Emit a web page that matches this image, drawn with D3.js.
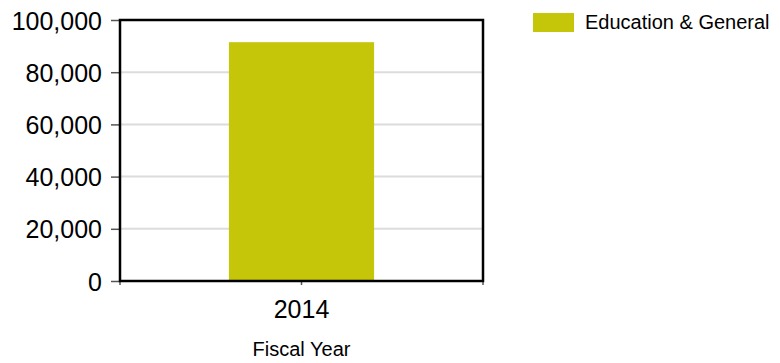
<!DOCTYPE html>
<html>
<head>
<meta charset="utf-8">
<script src="https://cdn.jsdelivr.net/npm/d3@7"></script>
<style>
    body { margin: 0; background: #fff; }
    text { font-family: "Liberation Sans", Arial, sans-serif; fill: #000; }
</style>
</head>
<body>
<script>
// chart data
const categories = ["2014"];
const seriesName = "Education & General";
const values = [91500];
const yTicks = [0, 20000, 40000, 60000, 80000, 100000];

const width = 780, height = 363;
const margin = {top: 20, right: 297, bottom: 82, left: 120};

let svg = d3.select("body").append("svg")
    .attr("width", width)
    .attr("height", height);

let x = d3.scaleBand()
    .domain(categories)
    .range([margin.left, width - margin.right])
    .paddingInner(0.6)
    .paddingOuter(0.3);

let y = d3.scaleLinear()
    .domain([0, 100000])
    .range([height - margin.bottom, margin.top]);

// gridlines
svg.append("g")
    .selectAll("line")
    .data(yTicks.filter(d => d > 0 && d < 100000))
    .enter().append("line")
    .attr("x1", margin.left)
    .attr("x2", width - margin.right)
    .attr("y1", d => y(d))
    .attr("y2", d => y(d))
    .attr("stroke", "#dcdcdc")
    .attr("stroke-width", 2);

// bars
svg.append("g")
    .selectAll("rect")
    .data(values)
    .enter().append("rect")
    .attr("x", (d, i) => x(categories[i]))
    .attr("y", d => y(d))
    .attr("width", x.bandwidth())
    .attr("height", d => y(0) - y(d))
    .attr("fill", "#c5c609");

// y axis
let yAxis = svg.append("g")
    .attr("transform", "translate(" + margin.left + ",0)")
    .call(d3.axisLeft(y).tickValues(yTicks).tickFormat(d3.format(",")).tickSize(9).tickPadding(9));
yAxis.select(".domain").remove();
yAxis.selectAll(".tick line").attr("stroke", "#555").attr("stroke-width", 1.5);
yAxis.selectAll("text").style("font-size", "25px").attr("dy", "0.36em");

// x axis
let xAxis = svg.append("g")
    .attr("transform", "translate(0," + y(0) + ")")
    .call(d3.axisBottom(x).tickSize(4).tickPadding(15));
xAxis.select(".domain").remove();
xAxis.selectAll(".tick line").attr("stroke", "#555").attr("stroke-width", 1.5);
xAxis.selectAll("text").style("font-size", "25px");

// edge ticks on x axis
svg.append("g")
    .selectAll("line")
    .data(x.range())
    .enter().append("line")
    .attr("x1", d => d).attr("x2", d => d)
    .attr("y1", y(0)).attr("y2", y(0) + 4)
    .attr("stroke", "#555").attr("stroke-width", 1.5);

// frame
svg.append("rect")
    .attr("x", margin.left)
    .attr("y", margin.top)
    .attr("width", width - margin.right - margin.left)
    .attr("height", y(0) - margin.top)
    .attr("fill", "none")
    .attr("stroke", "#000")
    .attr("stroke-width", 2.5);

// axis title
svg.append("text")
    .attr("x", (margin.left + width - margin.right) / 2)
    .attr("y", 356)
    .attr("text-anchor", "middle")
    .style("font-size", "20px")
    .text("Fiscal Year");

// legend
let legend = svg.append("g").attr("transform", "translate(533,13)");
legend.append("rect")
    .attr("width", 41)
    .attr("height", 19)
    .attr("fill", "#c5c609");
legend.append("text")
    .attr("x", 52)
    .attr("y", 16)
    .style("font-size", "20px")
    .text(seriesName);
</script>
</body>
</html>
